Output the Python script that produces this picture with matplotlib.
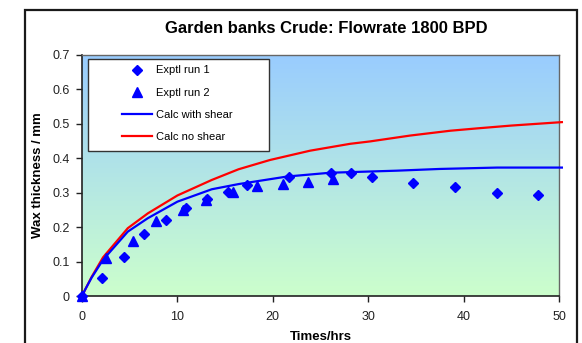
import numpy as np
import matplotlib
matplotlib.use("Agg")
import matplotlib.pyplot as plt
from matplotlib.colors import LinearSegmentedColormap
from matplotlib.patches import Rectangle

plt.rcParams['font.family'] = ['Liberation Sans', 'DejaVu Sans']

# data
run1_t = [0, 2.1, 4.4, 6.5, 8.8, 10.9, 13.1, 15.3, 17.3, 21.7, 26.1, 28.2, 30.4, 34.7, 39.1, 43.5, 47.8]
run1_y = [0, 0.051, 0.114, 0.180, 0.221, 0.257, 0.281, 0.301, 0.323, 0.346, 0.357, 0.357, 0.345, 0.329, 0.316, 0.300, 0.294]

run2_t = [0, 2.5, 5.3, 7.8, 10.6, 13.0, 15.8, 18.3, 21.1, 23.7, 26.3]
run2_y = [0, 0.109, 0.160, 0.218, 0.250, 0.280, 0.301, 0.320, 0.326, 0.332, 0.340]

shear_t = [0, 0.3, 1, 2.2, 4.8, 6.9, 10, 13.6, 16.4, 21.5, 26, 33, 37.5, 43.5, 50.3]
shear_y = [0, 0.017, 0.053, 0.105, 0.187, 0.226, 0.274, 0.310, 0.325, 0.347, 0.358, 0.364, 0.369, 0.373, 0.373]

noshear_t = [0, 0.3, 1, 2.2, 4.8, 6.9, 10, 13.6, 16.4, 19.7, 23.9, 28.1, 30.2, 34.4, 38.6, 41.5, 45, 50.3]
noshear_y = [0, 0.017, 0.055, 0.112, 0.197, 0.240, 0.292, 0.337, 0.368, 0.395, 0.422, 0.442, 0.449, 0.466, 0.480, 0.487, 0.495, 0.505]

xticks = [0, 10, 20, 30, 40, 50]
yticks = [0, 0.1, 0.2, 0.3, 0.4, 0.5, 0.6, 0.7]
ytick_labels = ['0', '0.1', '0.2', '0.3', '0.4', '0.5', '0.6', '0.7']

fig = plt.figure(figsize=(5.82, 3.43), dpi=100)
ax = fig.add_axes([0.1409, 0.137, 0.8196, 0.7027])

# outer chart border
fig.patches.append(Rectangle((25/582, -0.05), 552/582, 1.05 - 10/343, transform=fig.transFigure,
                             fill=False, ec='#1a1a1a', lw=1.6))

# plot area gradient
cmap = LinearSegmentedColormap.from_list('bg', ['#ccffcc', '#99ccff'])
grad = np.linspace(0, 1, 256).reshape(-1, 1)
ax.imshow(grad, cmap=cmap, origin='lower', extent=[0, 50, 0, 0.7], aspect='auto', zorder=0)

ax.plot(noshear_t, noshear_y, color='#ff0000', lw=1.6, label='Calc no shear', zorder=3, clip_on=False)
ax.plot(shear_t, shear_y, color='#0000ff', lw=1.6, label='Calc with shear', zorder=3, clip_on=False)
ax.plot(run1_t, run1_y, 'D', color='#0000ff', ms=4.8, ls='none', label='Exptl run 1', zorder=4, clip_on=False)
ax.plot(run2_t, run2_y, '^', color='#0000ff', ms=7, ls='none', label='Exptl run 2', zorder=4, clip_on=False)

ax.set_xlim(0, 50)
ax.set_ylim(0, 0.7)
ax.set_xticks(xticks)
ax.set_yticks(yticks)
ax.set_yticklabels(ytick_labels)
ax.tick_params(direction='out', length=4, width=1, labelsize=9, colors='#222222', pad=5)
ax.tick_params(axis='x', pad=7)
for s in ['left', 'bottom']:
    ax.spines[s].set_color('#222222')
    ax.spines[s].set_linewidth(1.2)
for s in ['top', 'right']:
    ax.spines[s].set_color('#666666')
    ax.spines[s].set_linewidth(1.0)

ax.set_xlabel('Times/hrs', fontsize=9.5, fontweight='bold', va='center')
ax.set_ylabel('Wax thickness / mm', fontsize=9.5, fontweight='bold', va='center')
ax.xaxis.set_label_coords(0.5, -0.172)
ax.yaxis.set_label_coords(-0.092, 0.5)

fig.text(0.56, 0.918, 'Garden banks Crude: Flowrate 1800 BPD', ha='center', va='center',
         fontsize=12, fontweight='bold')

# legend box drawn separately, legend itself without frame
ax.add_patch(Rectangle((0.012, 0.6), 0.38, 0.383, transform=ax.transAxes, fc='white',
                       ec='#333333', lw=1, zorder=5))
h, l = ax.get_legend_handles_labels()
order = [2, 3, 1, 0]
leg = ax.legend([h[i] for i in order], [l[i] for i in order], loc='upper left',
                bbox_to_anchor=(0.075, 0.975), frameon=False, fontsize=8,
                handlelength=2.7, handletextpad=0.3, labelspacing=1.1, borderaxespad=0)
leg.set_zorder(6)

fig.savefig('out.png', dpi=100)
